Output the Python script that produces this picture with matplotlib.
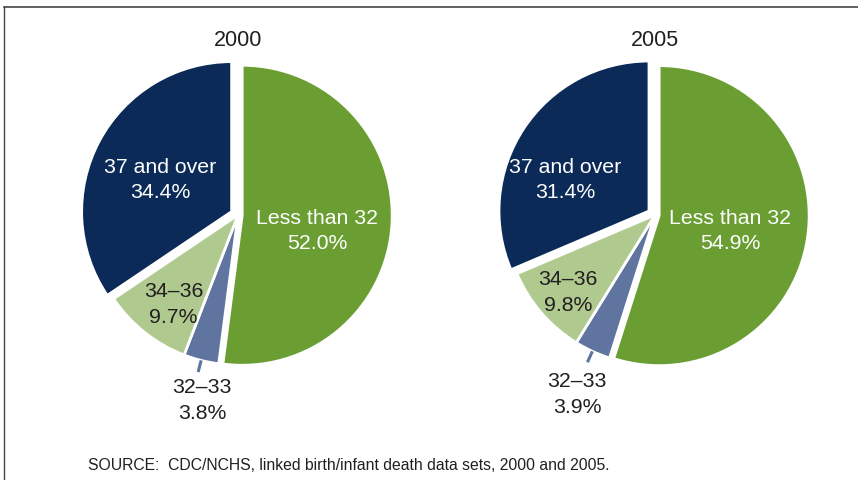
import matplotlib
matplotlib.use("Agg")
import matplotlib.pyplot as plt
import numpy as np
from matplotlib.lines import Line2D

plt.rcParams['font.family'] = ['Liberation Sans', 'DejaVu Sans']

# data (gestational age groups, weeks)
groups = ['Less than 32', '32\u201333', '34\u201336', '37 and over']
years = ['2000', '2005']
share_2000 = [52.0, 3.8, 9.7, 34.4]
share_2005 = [54.9, 3.9, 9.8, 31.4]
colors = ['#6a9e33', '#5f749e', '#afc98f', '#0b2a57']
text_colors = ['white', '#231f20', '#231f20', 'white']
explode = [0.028, 0.0, 0.0, 0.048]

W, H = 858, 481
fig = plt.figure(figsize=(W / 100, H / 100), dpi=100)

# label offsets in pie units (x, y) for each group
label_pos = {
    '2000': [(0.53, -0.10), (-0.24, -1.23), (-0.43, -0.59), (-0.52, 0.24)],
    '2005': [(0.50, -0.10), (-0.52, -1.19), (-0.58, -0.51), (-0.60, 0.24)],
}
centers = {'2000': (238, 216), '2005': (655, 216)}
R = 150

for year, vals in zip(years, [share_2000, share_2005]):
    cx, cy = centers[year]
    half = 1.3 * R
    ax = fig.add_axes([(cx - half) / W, (H - cy - half) / H, 2 * half / W, 2 * half / H])
    wedges, _ = ax.pie(vals, colors=colors, startangle=90, counterclock=False,
                       explode=explode,
                       wedgeprops=dict(edgecolor='white', linewidth=2))
    ax.set_xlim(-1.3, 1.3)
    ax.set_ylim(-1.3, 1.3)
    ax.set_aspect('equal')
    ax.axis('off')

    # leader line for the small slice
    w = wedges[1]
    mid = np.deg2rad((w.theta1 + w.theta2) / 2)
    ax.plot([1.0 * np.cos(mid), 1.08 * np.cos(mid)],
            [1.0 * np.sin(mid), 1.08 * np.sin(mid)],
            color=colors[1], lw=2.2, solid_capstyle='butt')

    for g, v, (tx, ty), tc in zip(groups, vals, label_pos[year], text_colors):
        ax.text(tx, ty, f'{g}\n{v:.1f}%', ha='center', va='center',
                color=tc, fontsize=15.3, linespacing=1.45)

    fig.text(cx / W, 1 - 40 / H, year, ha='center', va='center',
             fontsize=15.5, color='#231f20')

fig.text(88 / W, 1 - 466 / H,
         'SOURCE:  CDC/NCHS, linked birth/infant death data sets, 2000 and 2005.',
         ha='left', va='center', fontsize=11.3, color='#231f20')

# partial frame
fig.add_artist(Line2D([4 / W, 1], [1 - 8 / H, 1 - 8 / H], color='#444444', lw=1.2))
fig.add_artist(Line2D([4 / W, 4 / W], [0, 1 - 8 / H], color='#444444', lw=1.0))

fig.savefig('out.png', dpi=100)
